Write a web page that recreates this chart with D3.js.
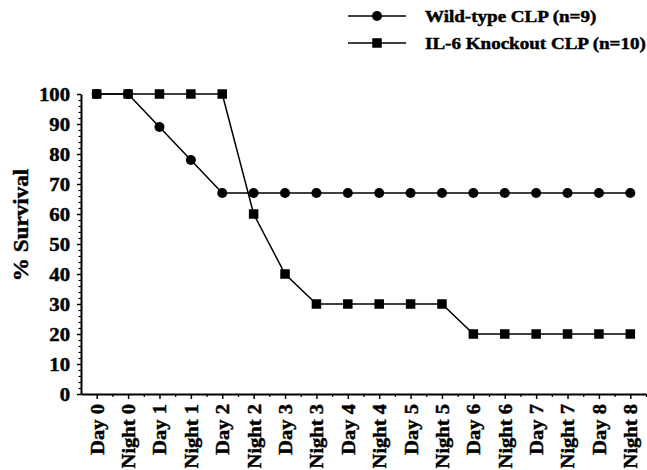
<!DOCTYPE html>
<html>
<head>
<meta charset="utf-8">
<script src="https://cdn.jsdelivr.net/npm/d3@7"></script>
<style>
  html, body { margin: 0; padding: 0; background: #fff; }
  svg { display: block; }
  text { font-family: "Liberation Serif", "Times New Roman", serif; font-weight: bold; fill: #000; stroke: #000; stroke-width: 0.45px; }
</style>
</head>
<body>
<svg id="chart" width="647" height="470"></svg>
<script>
const categories = ["Day 0","Night 0","Day 1","Night 1","Day 2","Night 2","Day 3","Night 3","Day 4","Night 4","Day 5","Night 5","Day 6","Night 6","Day 7","Night 7","Day 8","Night 8"];
const wildType = [100,100,89,78,67,67,67,67,67,67,67,67,67,67,67,67,67,67];
const knockout = [100,100,100,100,100,60,40,30,30,30,30,30,20,20,20,20,20,20];
const yTicks = [0,10,20,30,40,50,60,70,80,90,100];
const seriesNames = ["Wild-type CLP (n=9)", "IL-6 Knockout CLP (n=10)"];

const svg = d3.select("#chart");
const x = d3.scaleLinear().domain([-0.5, categories.length - 0.5]).range([81, 646]);
const y = d3.scaleLinear().domain([0, 100]).range([394, 94]);

function stretch(sel, k) {
  sel.each(function() {
    const L = this.getComputedTextLength();
    d3.select(this).attr("textLength", L * k).attr("lengthAdjust", "spacingAndGlyphs");
  });
}

// Y axis
const yAx = svg.append("g").attr("transform", "translate(81,0)")
  .call(d3.axisLeft(y).tickValues(yTicks).tickSize(4).tickSizeOuter(0).tickPadding(7));
yAx.select(".domain").attr("stroke-width", 2);
yAx.selectAll(".tick line").attr("stroke-width", 1.5);
yAx.selectAll(".tick text").style("font-size", "18px").style("font-family", "Liberation Serif").style("font-weight", "bold").attr("dy", "0.34em");
stretch(yAx.selectAll(".tick text"), 1.15);
// minor y ticks
const yMinor = d3.range(0, 101, 2).filter(v => v % 10 !== 0);
svg.append("g").attr("transform", "translate(81,0)")
  .call(d3.axisLeft(y).tickValues(yMinor).tickSize(2.5).tickFormat(""))
  .call(g => g.select(".domain").remove())
  .selectAll(".tick line").attr("stroke-width", 1.2);

// X axis
const xAx = svg.append("g").attr("transform", "translate(0,394)")
  .call(d3.axisBottom(x).tickValues(d3.range(categories.length)).tickFormat(i => categories[i]).tickSize(5).tickSizeOuter(0));
xAx.select(".domain").attr("stroke-width", 2);
xAx.selectAll(".tick line").attr("stroke-width", 1.5);
xAx.selectAll(".tick text")
  .style("font-size", "19px").style("font-family", "Liberation Serif").style("font-weight", "bold")
  .attr("text-anchor", "end")
  .attr("transform", "rotate(-90)")
  .attr("x", -10).attr("y", 0).attr("dy", "0.34em");
stretch(xAx.selectAll(".tick text"), 1.08);
// minor x ticks
svg.append("g").attr("transform", "translate(0,394)")
  .call(d3.axisBottom(x).tickValues(d3.range(categories.length).map(i => i + 0.5)).tickSize(3).tickFormat(""))
  .call(g => g.select(".domain").remove())
  .selectAll(".tick line").attr("stroke-width", 1.2);

// Y axis title
const yt = svg.append("text")
  .attr("transform", "translate(28,225) rotate(-90)")
  .attr("text-anchor", "middle")
  .style("font-size", "21px")
  .text("% Survival");
stretch(yt, 1.1);

// Lines
const line = d3.line().x((d, i) => x(i)).y(d => y(d));
svg.append("path").datum(wildType).attr("d", line).attr("fill", "none").attr("stroke", "#000").attr("stroke-width", 1.5);
svg.append("path").datum(knockout).attr("d", line).attr("fill", "none").attr("stroke", "#000").attr("stroke-width", 1.5);

svg.append("g").selectAll("circle").data(wildType).join("circle")
  .attr("cx", (d, i) => x(i)).attr("cy", d => y(d)).attr("r", 5).attr("fill", "#000");
svg.append("g").selectAll("rect").data(knockout).join("rect")
  .attr("x", (d, i) => x(i) - 4.75).attr("y", d => y(d) - 4.75).attr("width", 9.5).attr("height", 9.5).attr("fill", "#000");

// Legend
const leg = svg.append("g");
const rows = [16, 43];
rows.forEach((ry, k) => {
  leg.append("line").attr("x1", 348).attr("x2", 406).attr("y1", ry).attr("y2", ry).attr("stroke", "#000").attr("stroke-width", 1.5);
  if (k === 0) leg.append("circle").attr("cx", 377).attr("cy", ry).attr("r", 5).attr("fill", "#000");
  else leg.append("rect").attr("x", 377 - 4.75).attr("y", ry - 4.75).attr("width", 9.5).attr("height", 9.5).attr("fill", "#000");
  const t = leg.append("text").attr("x", 425).attr("y", ry + 5.5).style("font-size", "16px").text(seriesNames[k]);
  stretch(t, 1.19);
});
</script>
</body>
</html>
